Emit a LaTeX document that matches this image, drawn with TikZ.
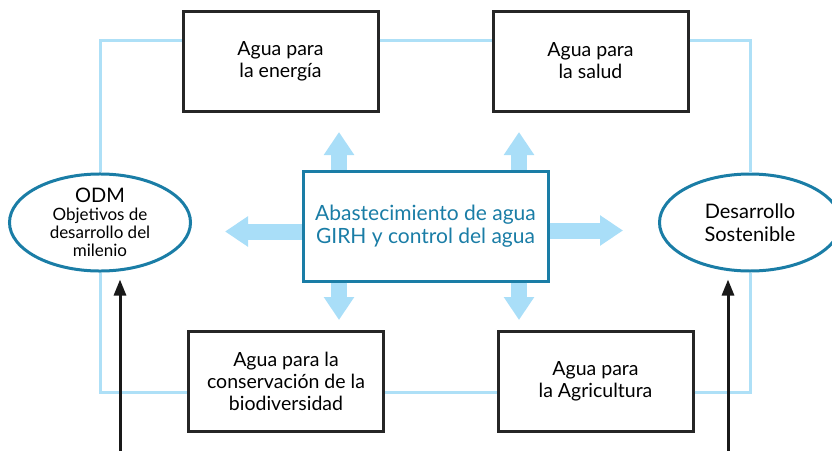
\documentclass[tikz,border=0pt]{standalone}
\usepackage{fontspec}
\setmainfont{Lato}
\usetikzlibrary{arrows.meta,shapes.geometric}

\definecolor{frameblue}{HTML}{AEE0F7}
\definecolor{arrowblue}{HTML}{A9DEF8}
\definecolor{odmteal}{HTML}{1A7DA6}

\begin{document}
\begin{tikzpicture}[x=1pt,y=-1pt,
    area box/.style={draw=black!85,line width=3pt,minimum width=195pt,minimum height=100pt,
                     align=center,inner sep=0pt,font=\fontsize{19.5}{22}\selectfont},
    goal node/.style={ellipse,draw=odmteal,line width=3pt,minimum width=181pt,
                      minimum height=97pt,align=center,inner sep=0pt},
    frame line/.style={frameblue,line width=3pt},
    big arrow/.style={arrowblue,line width=16pt,-{Triangle[width=29pt,length=23pt]}},
    input arrow/.style={black!90,line width=3pt,-{Triangle[width=12pt,length=16pt]}}]
  \useasboundingbox (0,0) rectangle (832,450);

  % sectores
  \node[area box] (energia) at (280.5,61) {Agua para\\la energía};
  \node[area box] (salud) at (590.5,61) {Agua para\\la salud};
  \node[area box] (biodiv) at (286,381.5) {Agua para la\\conservación de la\\biodiversidad};
  \node[area box] (agri) at (595.5,381.5) {Agua para\\la Agricultura};
  \node[draw=odmteal,line width=3pt,text=odmteal,minimum width=245pt,minimum height=110pt,
        align=center,inner sep=0pt,font=\fontsize{21}{23}\selectfont] (girh) at (425.5,226)
        {Abastecimiento de agua\\GIRH y control del agua};

  % metas
  \node[goal node,font=\fontsize{17}{18}\selectfont] (odm) at (100,222.5)
        {{\fontsize{20}{20}\selectfont ODM}\\Objetivos de\\desarrollo del\\milenio};
  \node[goal node,font=\fontsize{20}{23}\selectfont] (ds) at (750,222.5) {Desarrollo\\Sostenible};

  % marco
  \draw[frame line] (odm.north) |- ([yshift=21pt]energia.west);
  \draw[frame line] ([yshift=21pt]energia.east) -- ([yshift=21pt]salud.west);
  \draw[frame line] ([yshift=21pt]salud.east) -| (ds.north);
  \draw[frame line] (odm.south) |- ([yshift=-10.5pt]biodiv.west);
  \draw[frame line] ([yshift=-10.5pt]biodiv.east) -- ([yshift=-10.5pt]agri.west);
  \draw[frame line] ([yshift=-10.5pt]agri.east) -| (ds.south);

  % flechas
  \coordinate (upA) at (339,132);
  \coordinate (upB) at (519,132);
  \coordinate (downA) at (339,320);
  \coordinate (downB) at (519,320);
  \coordinate (leftT) at (225,231.5);
  \coordinate (rightT) at (623,230.5);
  \draw[big arrow] (girh.north -| upA) -- (upA);
  \draw[big arrow] (girh.north -| upB) -- (upB);
  \draw[big arrow] (girh.south -| downA) -- (downA);
  \draw[big arrow] (girh.south -| downB) -- (downB);
  \draw[big arrow] (girh.west |- leftT) -- (leftT);
  \draw[big arrow] (girh.east |- rightT) -- (rightT);

  \coordinate (odmin) at (120,452);
  \coordinate (dsin) at (728,452);
  \draw[input arrow,shorten >=7pt] (odmin) -- (odmin |- odm.south);
  \draw[input arrow,shorten >=7pt] (dsin) -- (dsin |- ds.south);
\end{tikzpicture}
\end{document}
